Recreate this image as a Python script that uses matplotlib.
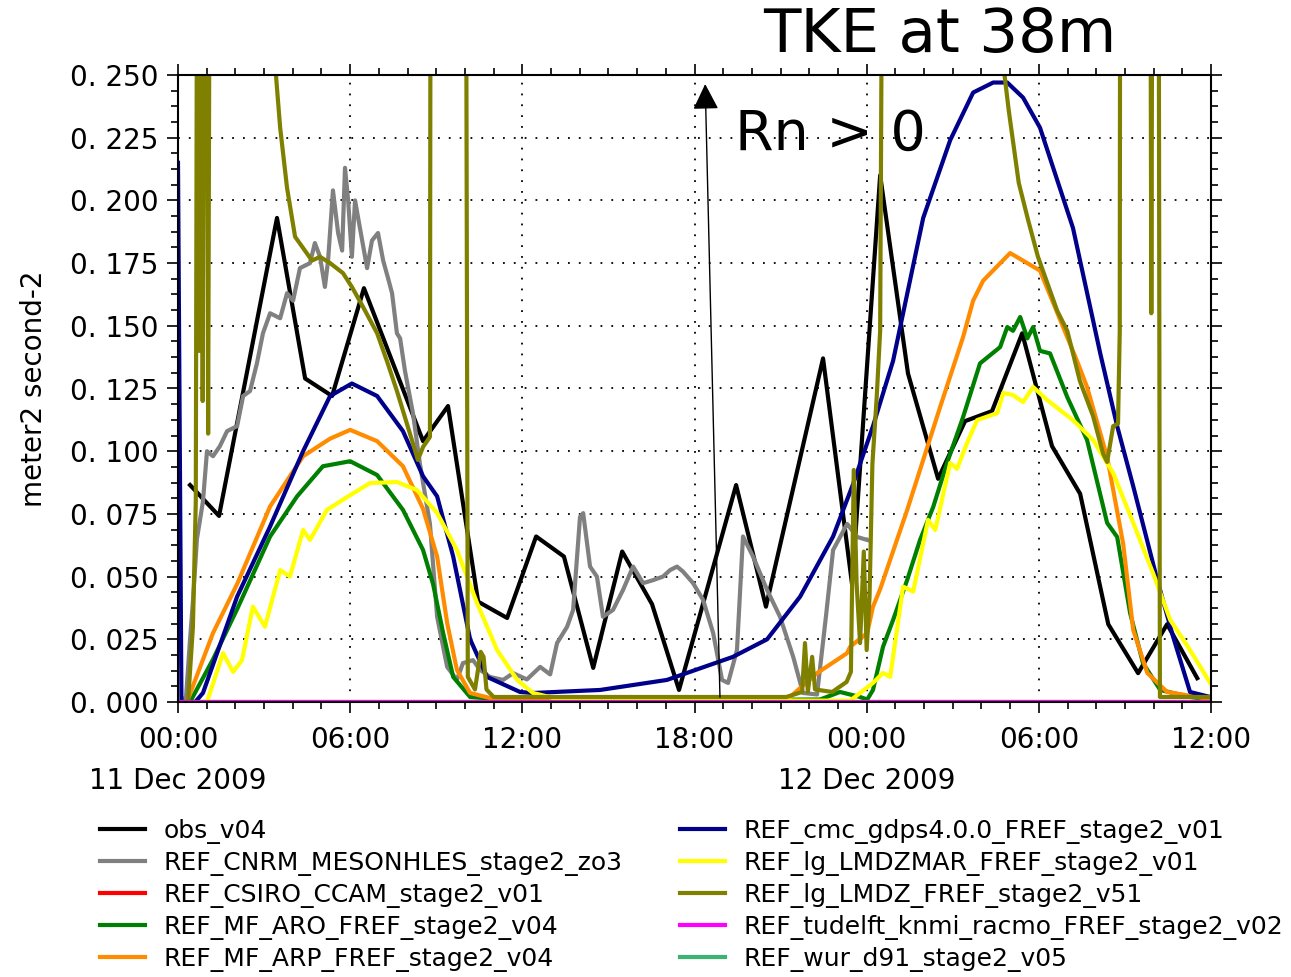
#!/usr/bin/env python3
import matplotlib
matplotlib.use('Agg')
import matplotlib.pyplot as plt
from matplotlib.ticker import MultipleLocator, FuncFormatter

# time axis in hours since 00:00 11 Dec 2009
xtick_pos = [0, 6, 12, 18, 24, 30, 36]
xtick_labels = ['00:00\n11 Dec 2009', '06:00', '12:00', '18:00',
                '00:00\n12 Dec 2009', '06:00', '12:00']

names = ['obs_v04', 'REF_CNRM_MESONHLES_stage2_zo3', 'REF_CSIRO_CCAM_stage2_v01',
         'REF_MF_ARO_FREF_stage2_v04', 'REF_MF_ARP_FREF_stage2_v04',
         'REF_cmc_gdps4.0.0_FREF_stage2_v01', 'REF_lg_LMDZMAR_FREF_stage2_v01',
         'REF_lg_LMDZ_FREF_stage2_v51', 'REF_tudelft_knmi_racmo_FREF_stage2_v02',
         'REF_wur_d91_stage2_v05']
colors = ['black', 'gray', 'red', 'green', 'darkorange', 'darkblue', 'yellow',
          'olive', 'magenta', 'mediumseagreen']

obs_t = [0.42, 1.43, 3.45, 4.43, 5.37, 6.48, 8.54, 9.41, 10.46, 11.47, 12.48, 13.45,
         14.47, 15.48, 16.52, 17.46, 19.45, 20.49, 22.48, 23.49, 24.47, 25.44, 26.49,
         27.43, 28.37, 29.42, 30.46, 31.44, 32.42, 33.46, 34.47, 35.52]
obs_v = [0.0865, 0.0742, 0.193, 0.129, 0.122, 0.165, 0.104, 0.118, 0.040, 0.0335, 0.066,
         0.058, 0.0136, 0.060, 0.039, 0.0048, 0.0865, 0.038, 0.137, 0.047, 0.210, 0.131,
         0.089, 0.112, 0.116, 0.147, 0.102, 0.083, 0.031, 0.0115, 0.031, 0.0095]

cnrm_t = [0.07, 0.28, 0.42, 0.52, 0.66, 0.87, 1.01, 1.22, 1.46, 1.71, 2.06, 2.27, 2.51,
          2.75, 2.96, 3.21, 3.56, 3.80, 4.01, 4.25, 4.60, 4.77, 4.95, 5.12, 5.23, 5.40,
          5.58, 5.72, 5.82, 5.93, 6.06, 6.17, 6.34, 6.59, 6.76, 6.97, 7.15, 7.32, 7.46,
          7.63, 7.74, 7.91, 8.19, 8.43, 8.78, 9.03, 9.38, 9.72, 9.93, 10.28, 10.53, 10.87,
          11.33, 11.68, 12.16, 12.62, 12.97, 13.21, 13.56, 13.77, 14.01, 14.12, 14.36,
          14.60, 14.81, 15.16, 15.51, 15.86, 16.21, 16.56, 16.90, 17.15, 17.39, 17.60,
          17.95, 18.30, 18.65, 18.96, 19.17, 19.48, 19.69, 20.04, 20.53, 20.98, 21.44,
          21.78, 22.27, 22.58, 22.83, 23.32, 23.67, 24.02]
cnrm_v = [0.0, 0.002, 0.025, 0.040, 0.065, 0.080, 0.100, 0.098, 0.102, 0.108, 0.110,
          0.122, 0.124, 0.135, 0.147, 0.155, 0.153, 0.163, 0.160, 0.173, 0.175, 0.183,
          0.1775, 0.1655, 0.176, 0.204, 0.187, 0.180, 0.213, 0.200, 0.1775, 0.200, 0.189,
          0.173, 0.184, 0.187, 0.176, 0.169, 0.163, 0.147, 0.145, 0.132, 0.115, 0.095,
          0.071, 0.034, 0.014, 0.0088, 0.0155, 0.0167, 0.0128, 0.010, 0.0088, 0.0115,
          0.009, 0.014, 0.011, 0.0235, 0.030, 0.0367, 0.0738, 0.0753, 0.054, 0.050, 0.034,
          0.0367, 0.0447, 0.054, 0.0474, 0.0486, 0.050, 0.0526, 0.054, 0.052, 0.0474,
          0.0407, 0.0275, 0.0088, 0.0076, 0.0207, 0.066, 0.058, 0.0447, 0.034, 0.018,
          0.0036, 0.003, 0.034, 0.0606, 0.071, 0.0658, 0.0646]

csiro_t = [0, 36]
csiro_v = [0.0, 0.0]

aro_t = [0.42, 1.22, 2.06, 3.21, 4.15, 5.05, 6.0, 6.94, 7.84, 8.54, 8.89, 9.24, 9.59,
         10.18, 11.92, 22.38, 23.07, 23.77, 24.02, 24.22, 24.57, 24.92, 25.41, 25.86,
         26.32, 26.80, 27.36, 27.95, 28.65, 28.90, 29.10, 29.35, 29.60, 29.80, 30.04,
         30.39, 30.99, 31.68, 32.38, 32.73, 33.18, 33.63, 34.23, 35.27, 36.0]
aro_v = [0.0, 0.017, 0.037, 0.066, 0.082, 0.094, 0.096, 0.0905, 0.0766, 0.0606, 0.047,
         0.0275, 0.010, 0.002, 0.0005, 0.001, 0.004, 0.002, 0.001, 0.0048, 0.022, 0.0327,
         0.0486, 0.0646, 0.0778, 0.0953, 0.1136, 0.135, 0.1415, 0.1495, 0.148, 0.1535,
         0.145, 0.1495, 0.140, 0.139, 0.1216, 0.1045, 0.0714, 0.0658, 0.0355, 0.0155,
         0.0048, 0.002, 0.001]

arp_t = [0.31, 1.22, 2.06, 3.21, 4.36, 5.30, 6.0, 6.94, 7.84, 8.54, 9.03, 9.38, 9.72,
         10.18, 10.87, 11.92, 21.23, 22.27, 23.32, 23.42, 24.02, 24.22, 24.47, 25.41,
         26.56, 27.36, 27.71, 28.06, 29.0, 30.04, 31.33, 31.68, 32.38, 32.94, 33.29,
         33.78, 34.47, 35.52, 36.0]
arp_v = [0.0, 0.0275, 0.047, 0.078, 0.098, 0.105, 0.1085, 0.104, 0.094, 0.077, 0.058,
         0.0315, 0.0128, 0.0036, 0.0016, 0.0005, 0.001, 0.0115, 0.0195, 0.022, 0.0275,
         0.038, 0.045, 0.0765, 0.1176, 0.1455, 0.160, 0.168, 0.179, 0.172, 0.136, 0.1256,
         0.0977, 0.063, 0.0287, 0.0116, 0.004, 0.002, 0.001]

cmc_t = [0.0, 0.12, 0.6, 0.87, 2.06, 3.21, 4.36, 5.30, 6.06, 6.94, 7.84, 8.54, 9.03,
         9.59, 10.18, 10.77, 11.92, 12.37, 14.71, 17.04, 19.34, 20.53, 21.68, 22.83,
         23.53, 24.22, 24.92, 25.97, 26.91, 27.71, 28.41, 28.90, 29.45, 30.04, 31.19,
         32.14, 32.73, 33.29, 34.12, 34.68, 35.27, 35.97]
cmc_v = [0.215, 0.0, 0.0, 0.0036, 0.042, 0.070, 0.100, 0.122, 0.127, 0.122, 0.108,
         0.090, 0.082, 0.058, 0.025, 0.010, 0.004, 0.0036, 0.0048, 0.0088, 0.018, 0.025,
         0.042, 0.066, 0.087, 0.110, 0.136, 0.193, 0.224, 0.243, 0.247, 0.247, 0.241,
         0.229, 0.189, 0.139, 0.110, 0.086, 0.049, 0.026, 0.004, 0.002]

lmdzmar_t = [1.01, 1.57, 1.92, 2.23, 2.61, 3.03, 3.56, 3.90, 4.36, 4.60, 5.19, 5.89,
             6.69, 7.63, 8.33, 9.03, 9.72, 10.42, 11.12, 11.82, 12.37, 13.3, 23.42,
             24.22, 24.57, 24.82, 25.27, 25.62, 26.14, 26.39, 26.91, 27.15, 27.50, 27.85,
             28.55, 28.76, 29.10, 29.45, 29.80, 30.29, 31.19, 31.89, 32.59, 33.29, 33.98,
             34.58, 35.27, 35.97]
lmdzmar_v = [0.0, 0.0195, 0.012, 0.0167, 0.038, 0.030, 0.0526, 0.050, 0.0686, 0.0646,
             0.0766, 0.0817, 0.0873, 0.0877, 0.0845, 0.0754, 0.0606, 0.0395, 0.0207,
             0.0088, 0.0036, 0.001, 0.0005, 0.0076, 0.0116, 0.010, 0.046, 0.044, 0.0726,
             0.0686, 0.0953, 0.093, 0.1033, 0.1124, 0.1152, 0.1232, 0.1224, 0.1196, 0.1256,
             0.1204, 0.1124, 0.1045, 0.0913, 0.0714, 0.0514, 0.0327, 0.0207, 0.0076]

# values above 0.25 leave the plotted range
lmdz_t = [0.0, 0.35, 0.52, 0.62, 0.70, 0.74, 0.80, 0.86, 0.95, 1.05, 1.15, 3.35, 3.42,
          3.56, 3.80, 4.08, 4.36, 4.67, 4.95, 5.30, 5.75, 6.06, 6.45, 6.94, 7.28, 7.63,
          8.19, 8.36, 8.54, 8.78, 8.82, 10.0, 10.1, 10.35, 10.55, 10.65, 10.75, 11.0,
          21.2, 21.75, 21.85, 21.95, 22.1, 22.2, 22.8, 23.3, 23.45, 23.55, 23.65, 23.77,
          23.9, 24.0, 24.1, 24.2, 24.35, 24.47, 24.62, 28.70, 28.95, 29.3, 29.63, 29.97,
          30.64, 30.99, 31.19, 31.43, 31.89, 32.24, 32.38, 32.59, 32.76, 32.82, 32.85,
          33.85, 33.92, 34.0, 34.15, 34.22, 34.5, 36.0]
lmdz_v = [0.0, 0.0, 0.03, 0.08, 0.5, 0.14, 0.5, 0.12, 0.5, 0.107, 0.5, 0.5, 0.249,
          0.229, 0.205, 0.1855, 0.181, 0.176, 0.1775, 0.175, 0.171, 0.1655, 0.1575, 0.147,
          0.136, 0.124, 0.103, 0.0965, 0.1017, 0.1057, 0.5, 0.5, 0.01, 0.005, 0.02, 0.018,
          0.005, 0.002, 0.002, 0.004, 0.0235, 0.004, 0.018, 0.005, 0.004, 0.008, 0.012,
          0.0925, 0.047, 0.0235, 0.06, 0.0207, 0.042, 0.095, 0.1216, 0.148, 0.5, 0.26,
          0.236, 0.207, 0.192, 0.1775, 0.156, 0.148, 0.139, 0.128, 0.114, 0.099, 0.0957,
          0.110, 0.111, 0.148, 0.5, 0.5, 0.155, 0.5, 0.5, 0.002, 0.002, 0.002]

racmo_t = [0, 36]
racmo_v = [0.0, 0.0]

wur_t = []
wur_v = []

series = [(obs_t, obs_v), (cnrm_t, cnrm_v), (csiro_t, csiro_v), (aro_t, aro_v),
          (arp_t, arp_v), (cmc_t, cmc_v), (lmdzmar_t, lmdzmar_v), (lmdz_t, lmdz_v),
          (racmo_t, racmo_v), (wur_t, wur_v)]

fig = plt.figure(figsize=(12.91, 9.77), dpi=100)
ax = fig.add_axes([178/1291, 1 - 702/977, (1211 - 178)/1291, (702 - 75)/977])

for (t, v), name, c in zip(series, names, colors):
    ax.plot(t, v, c=c, lw=3, label=name)

ax.set_xlim(0, 36)
ax.set_ylim(0, 0.25)
ax.set_xticks(xtick_pos)
ax.set_xticklabels(xtick_labels)
ax.xaxis.set_minor_locator(MultipleLocator(1))
ax.yaxis.set_major_locator(MultipleLocator(0.025))
ax.yaxis.set_minor_locator(MultipleLocator(0.00625))
ax.yaxis.set_major_formatter(FuncFormatter(lambda v, p: ('%.3f' % v).replace('.', '. ')))
ax.tick_params(which='both', direction='out', top=True, right=True, labelsize=20, width=1.2)
ax.tick_params(which='major', length=8, pad=6)
ax.tick_params(axis='x', which='major', pad=9)
ax.tick_params(which='minor', length=5)
for lbl in ax.get_xticklabels():
    lbl.set_linespacing(1.6)
for s in ax.spines.values():
    s.set_linewidth(1.5)
ax.grid(True, which='major', color='black', linestyle=(0, (1, 5)), lw=1.3)
ax.set_ylabel('meter2 second-2', fontsize=20, labelpad=16)

ax.annotate('', xy=(18.37, 0.2475), xytext=(18.89, 0.0008),
            arrowprops=dict(arrowstyle='-|>', color='black', lw=1, mutation_scale=40))
ax.text(22.73, 0.226, 'Rn > 0', fontsize=40, ha='center', va='center')
fig.text(0.728, 0.964, 'TKE at 38m', fontsize=44, ha='center', va='center')

fig.legend(loc='upper left', bbox_to_anchor=(100/1291, 1 - 819/977), ncol=2, frameon=False,
           fontsize=18, handlelength=1.8, handletextpad=0.75, columnspacing=2.3,
           labelspacing=0.28, borderpad=0, borderaxespad=0)

fig.savefig('out.png', dpi=100)
